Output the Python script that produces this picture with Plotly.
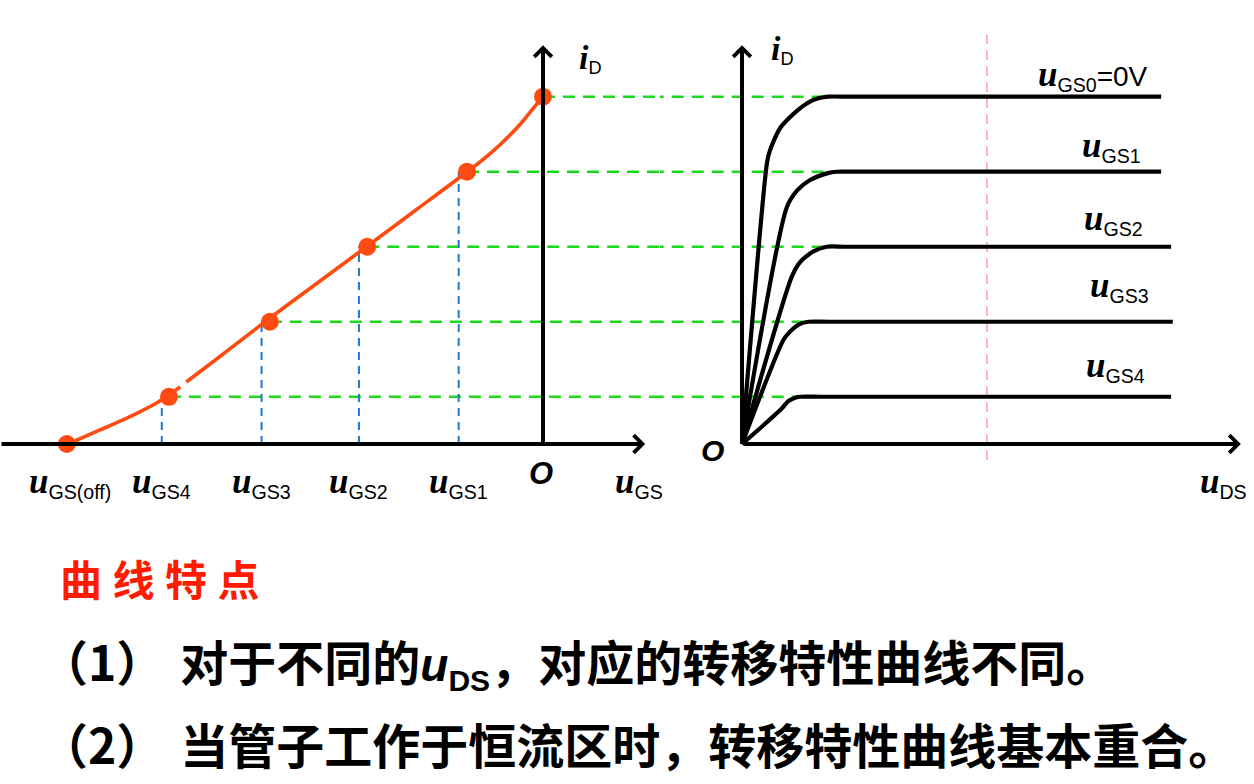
import plotly.graph_objects as go

# ---------------- data ----------------
# transfer characteristic (left panel): u_GS in V, i_D in mA
ugs_tick_names = ["GS(off)", "GS4", "GS3", "GS2", "GS1"]
ugs_ticks = [-3.98, -3.21, -2.37, -1.55, -0.71]
id_levels = [5.0, 3.92, 2.84, 1.76, 0.68]          # u_GS0 .. u_GS4
drop_levels = [0.68, 1.76, 2.84, 3.92]             # i_D at u_GS4 .. u_GS1
dot_ugs = [0.0, -0.64, -1.48, -2.30, -3.15, -4.01]
dot_id = [5.0, 3.92, 2.84, 1.76, 0.68, 0.0]
curve_ugs = [-4.00, -3.73, -3.45, -3.24, -3.055, None, -3.004, -2.77, -2.31,
             -1.90, -1.49, -1.07, -0.64, -0.45, -0.32, -0.19, -0.093, 0.0]
curve_id = [0.0, 0.202, 0.417, 0.605, 0.821, None, 0.893, 1.195, 1.800,
            2.318, 2.836, 3.369, 3.916, 4.175, 4.377, 4.607, 4.809, 5.0]

# output characteristics (right panel): u_DS in V, i_D in mA
out_names = ["GS0", "GS1", "GS2", "GS3", "GS4"]
out_uds = [
    [0, 0.60, 0.67, 0.92, 1.33, 1.71, 2.07, 2.6, 10.1],
    [0, 1.08, 1.33, 1.64, 2.07, 2.28, 2.8, 10.1],
    [0, 1.20, 1.40, 1.71, 2.04, 2.5, 10.34],
    [0, 1.00, 1.16, 1.40, 1.60, 2.1, 10.38],
    [0, 0.94, 1.12, 1.30, 1.42, 1.9, 10.34],
]
out_id = [
    [0, 4.04, 4.22, 4.55, 4.80, 4.95, 5.0, 5.0, 5.0],
    [0, 3.41, 3.65, 3.80, 3.90, 3.92, 3.92, 3.92],
    [0, 2.41, 2.62, 2.77, 2.84, 2.84, 2.84],
    [0, 1.50, 1.62, 1.73, 1.76, 1.76, 1.76],
    [0, 0.50, 0.62, 0.67, 0.68, 0.68, 0.68],
]
green_end_uds = [5.86, 2.28, 2.04, 1.60, 1.40]
pink_uds = 5.90

title_text = "曲线特点"
line1_a = "对于不同的"
line1_b = "，对应的转移特性曲线不同。"
line2 = "当管子工作于恒流区时，转移特性曲线基本重合。"

# ---------------- styling ----------------
ORANGE = "#FF4A12"
GREEN = "#1ED81E"
BLUE = "#1E78D2"
PINK = "#F5A3C7"

X1_RANGE = [-4.5726, 0.9853]
X2_RANGE = [-1.9759, 12.3373]
Y_RANGE = [-4.8949, 6.3922]
SPLIT = 660 / 1254


def joined(xs_list, ys_list):
    xs, ys = [], []
    for a, b in zip(xs_list, ys_list):
        xs += list(a) + [None]
        ys += list(b) + [None]
    return xs, ys


fig = go.Figure()

# green dashed projection lines (left part and right part)
gl_x, gl_y = joined([[ux, X1_RANGE[1] + 0.2] for ux in dot_ugs[:5]],
                    [[l, l] for l in id_levels])
gr_x, gr_y = joined([[X2_RANGE[0] - 0.2, g] for g in green_end_uds],
                    [[l, l] for l in id_levels])
fig.add_trace(go.Scatter(x=gl_x, y=gl_y, mode="lines", connectgaps=False,
                         line=dict(color=GREEN, width=2.6, dash="12px,8px"),
                         xaxis="x", yaxis="y", hoverinfo="skip"))
fig.add_trace(go.Scatter(x=gr_x, y=gr_y, mode="lines", connectgaps=False,
                         line=dict(color=GREEN, width=2.6, dash="12px,8px"),
                         xaxis="x2", yaxis="y", hoverinfo="skip"))

# blue dashed drop lines
bx, by = joined([[t, t] for t in ugs_ticks[1:]], [[0, l] for l in drop_levels])
fig.add_trace(go.Scatter(x=bx, y=by, mode="lines", connectgaps=False,
                         line=dict(color=BLUE, width=2, dash="8px,6px"),
                         xaxis="x", yaxis="y", hoverinfo="skip"))

# pink dashed vertical line
fig.add_trace(go.Scatter(x=[pink_uds, pink_uds], y=[-0.23, 5.89], mode="lines",
                         line=dict(color=PINK, width=1.6, dash="10px,6px"),
                         xaxis="x2", yaxis="y", hoverinfo="skip"))

# output characteristic curves
ox, oy = joined(out_uds, out_id)
fig.add_trace(go.Scatter(x=ox, y=oy, mode="lines", connectgaps=False,
                         line=dict(color="black", width=4.2, shape="spline", smoothing=0.7),
                         xaxis="x2", yaxis="y", hoverinfo="skip"))

# transfer curve + dots
fig.add_trace(go.Scatter(x=curve_ugs, y=curve_id, mode="lines",
                         line=dict(color=ORANGE, width=3.6, shape="spline", smoothing=0.6),
                         connectgaps=False, xaxis="x", yaxis="y", hoverinfo="skip"))
fig.add_trace(go.Scatter(x=dot_ugs, y=dot_id, mode="markers",
                         marker=dict(color=ORANGE, size=18, line=dict(width=0)),
                         xaxis="x", yaxis="y", hoverinfo="skip"))

ann = []


def arrow(xref, xt, yt, xh, yh):
    return dict(xref=xref, yref="y", axref=xref, ayref="y", x=xh, y=yh, ax=xt, ay=yt,
                text="", showarrow=True, arrowhead=4, arrowsize=0.85, arrowwidth=4,
                arrowcolor="black")


# axes with arrows
ann.append(arrow("x", X1_RANGE[0], 0, 0.86, 0))
ann.append(arrow("x", 0, 0, 0, 5.74))
ann.append(arrow("x2", 0, 0, 12.02, 0))
ann.append(arrow("x2", 0, 0, 0, 5.74))

SERIF = "Liberation Serif"
SANS = "Liberation Sans"
LBL_FONT = dict(family=SANS, size=28, color="black")   # <sub> -> 70 % of this


def u_label(sub, extra=""):
    return (f'<span style="font-family:{SERIF};font-size:35px"><b><i>u</i></b></span>'
            f'<sub>{sub}</sub>' + extra)


# left tick labels
for name, tx in zip(ugs_tick_names, ugs_ticks):
    ann.append(dict(xref="x", yref="y", x=tx, y=0, yshift=-38, text=u_label(name),
                    showarrow=False, xanchor="center", yanchor="middle", font=LBL_FONT))
# O and u_GS on left
ann.append(dict(xref="x", yref="y", x=0, y=0, yshift=-29, xshift=-2,
                text="<b><i>O</i></b>", showarrow=False,
                font=dict(family=SANS, size=31, color="black")))
ann.append(dict(xref="x", yref="y", x=0.81, y=0, yshift=-38, text=u_label("GS"),
                showarrow=False, font=LBL_FONT))
# i_D labels
iD = f'<span style="font-family:{SERIF};font-size:34px"><b><i>i</i></b></span><sub>D</sub>'
ID_FONT = dict(family=SANS, size=26, color="black")
ann.append(dict(xref="x", yref="y", x=0.40, y=5.55, text=iD, showarrow=False, font=ID_FONT))
ann.append(dict(xref="x2", yref="y", x=0.98, y=5.68, text=iD, showarrow=False, font=ID_FONT))

# right panel labels
ann.append(dict(xref="x2", yref="y", x=0, y=0, xshift=-30, yshift=-6,
                text="<b><i>O</i></b>", showarrow=False,
                font=dict(family=SANS, size=30, color="black")))
ann.append(dict(xref="x2", yref="y", x=11.6, y=0, yshift=-38, text=u_label("DS"),
                showarrow=False, font=LBL_FONT))
label_x = [8.45, 8.9, 8.95, 9.1, 9.0]
label_shift = [21, 25, 27, 35, 30]
for i, (nm, lvl) in enumerate(zip(out_names, id_levels)):
    extra = '<span style="font-size:28px">=0V</span>' if i == 0 else ""
    ann.append(dict(xref="x2", yref="y", x=label_x[i], y=lvl, yshift=label_shift[i],
                    text=u_label(nm, extra=extra), showarrow=False,
                    xanchor="center", yanchor="middle", font=LBL_FONT))

CJK = "Noto Sans CJK SC"
# bottom text
ann.append(dict(xref="paper", yref="paper", x=58 / 1254, y=1 - 577 / 784,
                text="<b>" + "\u2005".join(title_text) + "</b>", showarrow=False,
                xanchor="left", yanchor="middle",
                font=dict(family=CJK, size=42, color="#FF1A00")))
uds_inline = (f'<span style="font-family:{SANS};font-size:46px"><b><i>u</i></b></span>'
              f'<sub><span style="font-family:{SANS};font-size:30px"><b>DS</b></span></sub>')
ann.append(dict(xref="paper", yref="paper", x=38 / 1254, y=1 - 661 / 784,
                text="<b>（1）</b>\u2004<b>" + line1_a + "</b>" + uds_inline + "<b>" + line1_b + "</b>",
                showarrow=False, xanchor="left", yanchor="middle",
                font=dict(family=CJK, size=48, color="black")))
ann.append(dict(xref="paper", yref="paper", x=38 / 1254, y=1 - 743 / 784,
                text="<b>（2）</b>\u2004<b>" + line2 + "</b>",
                showarrow=False, xanchor="left", yanchor="middle",
                font=dict(family=CJK, size=48, color="black")))

hidden = dict(visible=False, showgrid=False, zeroline=False, fixedrange=True)
fig.update_layout(
    width=1254, height=784,
    margin=dict(l=0, r=0, t=0, b=0),
    paper_bgcolor="white", plot_bgcolor="rgba(0,0,0,0)",
    showlegend=False,
    xaxis=dict(domain=[0, SPLIT], range=X1_RANGE, anchor="y", **hidden),
    xaxis2=dict(domain=[SPLIT, 1], range=X2_RANGE, anchor="y", **hidden),
    yaxis=dict(domain=[0, 1], range=Y_RANGE, anchor="x", **hidden),
    annotations=ann,
)

fig.write_html("out.html")
